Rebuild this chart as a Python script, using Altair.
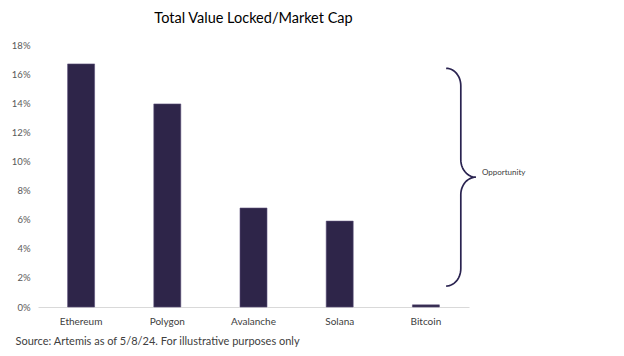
import math
import altair as alt
import pandas as pd

# ---- data ----
chains = ["Ethereum", "Polygon", "Avalanche", "Solana", "Bitcoin"]
tvl_mcap = [0.167, 0.1395, 0.068, 0.059, 0.0015]

title_text = "Total Value Locked/Market Cap"
source_text = "Source: Artemis as of 5/8/24. For illustrative purposes only"
brace_label = "Opportunity"
brace_low = 0.0144   # bottom of brace (share of market cap)
brace_high = 0.164   # top of brace

BAR = "#2e2549"
FONT = "Lato"

bars_df = pd.DataFrame({"chain": chains, "value": tvl_mcap})

# ---- curly brace annotation shape (x in fractions of plot width) ----
x0, x1, x2 = 0.947, 0.981, 1.016
ry = 0.012
mid = (brace_low + brace_high) / 2


def arc(cx, cy, rx, ryy, a0, a1, n=14):
    pts = []
    for i in range(n + 1):
        t = math.radians(a0 + (a1 - a0) * i / n)
        pts.append((cx + rx * math.cos(t), cy + ryy * math.sin(t)))
    return pts


pts = []
pts += arc(x0, brace_high - ry, x1 - x0, ry, 90, 0)
pts += arc(x2, mid + ry, x2 - x1, ry, 180, 270)
pts += arc(x2, mid - ry, x2 - x1, ry, 90, 180)
pts += arc(x0, brace_low + ry, x1 - x0, ry, 0, -90)
brace_df = pd.DataFrame({"bx": [p[0] for p in pts], "by": [p[1] for p in pts],
                         "order": list(range(len(pts)))})
label_df = pd.DataFrame({"bx": [1.03], "by": [mid + 0.003], "text": [brace_label]})

yscale = alt.Scale(domain=[0, 0.18], nice=False)
yaxis = alt.Axis(title=None, format=".0%", values=[i / 100 for i in range(0, 19, 2)],
                 ticks=False, domain=False, grid=False,
                 labelFont=FONT, labelFontSize=9.5, labelColor="#595959",
                 labelPadding=8)

bars = alt.Chart(bars_df).mark_bar(color=BAR, stroke="#5a4f78", strokeWidth=0.6).encode(
    x=alt.X("chain:N", sort=chains,
            scale=alt.Scale(paddingInner=0.687, paddingOuter=0.3435),
            axis=alt.Axis(title=source_text, labelAngle=0, ticks=False,
                          domainColor="#d9d9d9", domainWidth=1,
                          labelFont=FONT, labelFontSize=10, labelColor="#404040",
                          labelPadding=9,
                          titleFont=FONT, titleFontSize=11, titleFontWeight="normal",
                          titleColor="#404040", titleAnchor="start", titleAlign="left",
                          titleX=-23, titleY=34, titleBaseline="middle")),
    y=alt.Y("value:Q", scale=yscale, axis=yaxis),
)

xb = alt.Scale(domain=[0, 1], nice=False, zero=False)

brace = alt.Chart(brace_df).mark_line(color="#2a2350", strokeWidth=1.7).encode(
    x=alt.X("bx:Q", scale=xb, axis=None),
    y=alt.Y("by:Q", scale=yscale, axis=yaxis),
    order="order:Q",
)

label = alt.Chart(label_df).mark_text(align="left", baseline="middle", font=FONT,
                                      fontSize=8, color="#404040").encode(
    x=alt.X("bx:Q", scale=xb, axis=None),
    y=alt.Y("by:Q", scale=yscale, axis=yaxis),
    text="text:N",
)

chart = alt.layer(bars, alt.layer(brace, label)).resolve_scale(x="independent").properties(
    width=431, height=262,
    title=alt.TitleParams(title_text, font=FONT, fontSize=14.5, fontWeight="normal",
                          color="#000000", anchor="middle", offset=14),
    autosize=alt.AutoSizeParams(type="none"),
    padding={"left": 30, "top": 37, "right": 147, "bottom": 41},
).configure_view(stroke=None).configure_axis(grid=False)

chart.save("out.html", embed_options={"renderer": "svg", "actions": False})
